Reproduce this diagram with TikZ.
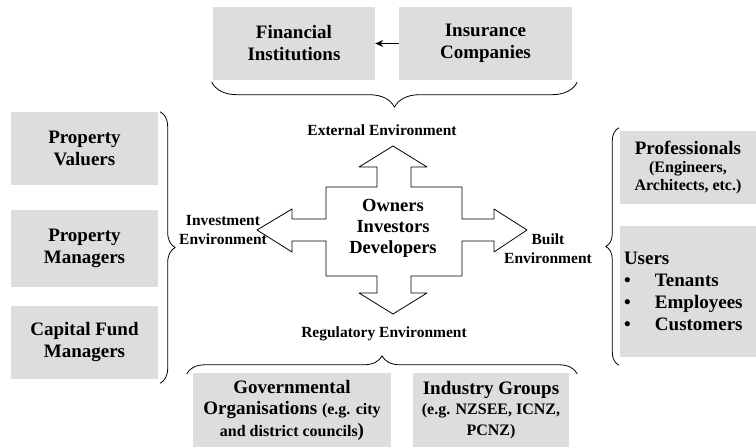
\documentclass[tikz,border=0pt]{standalone}
\usepackage{fontspec}
\setmainfont{Liberation Serif}
\usetikzlibrary{decorations.pathreplacing,arrows.meta}
\definecolor{boxgrey}{RGB}{221,221,221}
\newcommand{\minor}{\fontsize{16}{18}\selectfont}
\newcommand{\major}{\fontsize{19}{22}\selectfont}
\tikzset{
  greybox/.style={fill=boxgrey, inner sep=2pt, align=center, font=\bfseries\major},
  envlabel/.style={align=center, inner sep=0pt, font=\bfseries\fontsize{15.5}{19}\selectfont},
  bracket/.style={decorate, line width=0.8pt, decoration={brace, amplitude=#1}},
}
\begin{document}
\begin{tikzpicture}[x=1pt, y=-1pt, line join=round, >=Stealth]
\useasboundingbox (0,0) rectangle (756,447);
\node[greybox, minimum width=162pt, minimum height=73pt] (fin) at (294,43.5) {Financial\\Institutions};
\node[greybox, minimum width=173pt, minimum height=73pt] (ins) at (485.5,43.5) {Insurance\\Companies};
\draw[line width=1pt, -{Stealth[length=8pt,width=7pt]}] (ins.west) -- (fin.east);
\node[greybox, minimum width=147pt, minimum height=73pt] (pv) at (84.5,148.5) {Property\\Valuers};
\node[greybox, minimum width=147pt, minimum height=77pt] (pm) at (84.5,248.5) {Property\\Managers};
\node[greybox, minimum width=147pt, minimum height=73pt] (cfm) at (84.5,342.5) {Capital Fund\\Managers};
\node[greybox, minimum width=136pt, minimum height=73pt, font=\bfseries\minor] (prof) at (688,167.5)
  {{\major Professionals}\\(Engineers,\\Architects, etc.)};
\node[greybox, text width=128pt, inner xsep=4pt, minimum height=131pt, align=left] (users) at (688,291.5)
  {Users\\\makebox[31pt][l]{\textbullet}Tenants\\\makebox[31pt][l]{\textbullet}Employees\\\makebox[31pt][l]{\textbullet}Customers};
\node[greybox, minimum width=198pt, minimum height=74pt, font=\bfseries\fontsize{19}{21.5}\selectfont] (gov) at (292,410)
  {Governmental\\Organisations {\minor (e.g. city}\\{\minor and district councils})};
\node[greybox, minimum width=156pt, minimum height=74pt, font=\bfseries\fontsize{19}{20.5}\selectfont] (ind) at (491,410)
  {Industry Groups\\{\minor (e.g. NZSEE, ICNZ,}\\{\minor PCNZ)}};
\draw[bracket=25pt, decoration={mirror}] ([xshift=-1pt,yshift=-2pt]fin.south west) -- ([xshift=5pt,yshift=-2pt]ins.south east);
\draw[bracket=15pt] ([xshift=2pt]pv.north east) -- ([xshift=2pt,yshift=-4pt]cfm.south east);
\draw[bracket=13pt, decoration={mirror}] ([xshift=-1pt,yshift=3pt]prof.north west) -- ([xshift=-1pt,yshift=-8pt]users.south west);
\draw[bracket=18pt] ([xshift=-6pt,yshift=-1pt]gov.north west) -- ([xshift=8pt,yshift=-1pt]ind.north east);
\draw[line width=0.8pt, fill=white] (393,146) -- (427,167) -- (411,167) -- (411,187) -- (462,187) -- (462,219)
  -- (494,219) -- (494,209) -- (527,230) -- (494,252) -- (494,241) -- (462,241) -- (462,276)
  -- (411,276) -- (411,293) -- (427,293) -- (393,314) -- (359,293) -- (377,293) -- (377,276)
  -- (326,276) -- (326,241) -- (292,241) -- (292,252) -- (257,230) -- (292,209) -- (292,219)
  -- (326,219) -- (326,187) -- (377,187) -- (377,167) -- (359,167) -- cycle;
\node[align=center, inner sep=0pt, font=\bfseries\fontsize{18.5}{21}\selectfont] (core) at (393,228) {Owners\\Investors\\Developers};
\node[envlabel] (ext) at (382,130) {External Environment};
\node[envlabel] (reg) at (384,334) {Regulatory Environment};
\node[envlabel] (inv) at (223,230) {Investment\\Environment};
\node[envlabel] (blt) at (548,249) {Built\\Environment};
\end{tikzpicture}
\end{document}
